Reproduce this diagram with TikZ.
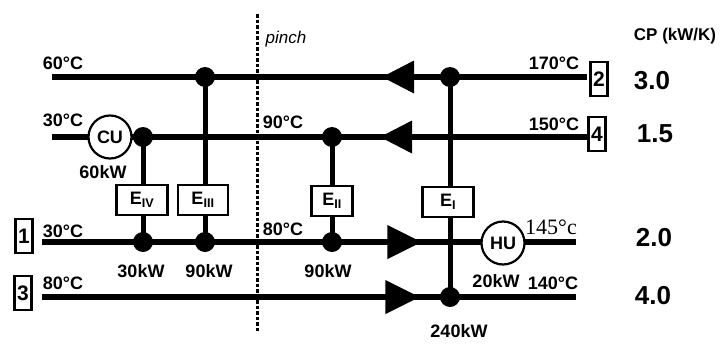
\documentclass[tikz,border=0pt]{standalone}
\usepackage{fontspec}
\setmainfont{Liberation Sans}
\newfontfamily\timesfont{Liberation Serif}
\usetikzlibrary{shapes.geometric}
\pgfdeclarelayer{bg}
\pgfsetlayers{bg,main}
\begin{document}
\begin{tikzpicture}[x=1pt,y=-1pt,
  stream/.style={line width=6.5pt},
  vline/.style={line width=5pt},
  pinchline/.style={line width=3pt,dash pattern=on 3.5pt off 2pt},
  dot/.style={circle,fill=black,inner sep=0pt,minimum size=20pt},
  hx/.style={draw,line width=2.4pt,fill=white,minimum height=30pt,inner sep=0pt,font=\fontsize{18}{18}\selectfont\bfseries},
  util/.style={circle,draw,line width=2.2pt,fill=white,minimum size=43pt,inner sep=0pt,font=\fontsize{18}{18}\selectfont\bfseries},
  lbl/.style={font=\fontsize{18}{18}\selectfont\bfseries,inner sep=0pt},
  cpval/.style={font=\fontsize{26}{26}\selectfont\bfseries,inner sep=0pt},
  sbox/.style={draw,line width=2.4pt,minimum width=17pt,minimum height=34pt,inner sep=0pt,font=\fontsize{21}{21}\selectfont\bfseries},
  flowL/.style={isosceles triangle,isosceles triangle stretches,fill=black,shape border rotate=180,minimum width=33pt,minimum height=32pt,inner sep=0pt},
  flowR/.style={isosceles triangle,isosceles triangle stretches,fill=black,minimum width=34pt,minimum height=34pt,inner sep=0pt},
]
\useasboundingbox (0,0) rectangle (725,343);

% stream end points
\coordinate (h2l) at (52,77);  \coordinate (h2r) at (587,77);
\coordinate (h4l) at (52,137); \coordinate (h4r) at (587,137);
\coordinate (c1l) at (42,242); \coordinate (c1r) at (576,242);
\coordinate (c3l) at (42,297); \coordinate (c3r) at (576,297);
\coordinate (pt) at (257,14);  \coordinate (pb) at (257,332);

% junction dots
\node[dot] (d2a) at (205,77) {};
\node[dot] (d2b) at (450,77) {};
\node[dot] (d4a) at (143,137) {};
\node[dot] (d4b) at (332,137) {};
\node[dot] (d1a) at (143,242) {};
\node[dot] (d1b) at (205,242) {};
\node[dot] (d1c) at (332,242) {};
\node[dot] (d3a) at (450,297) {};

\begin{pgfonlayer}{bg}
  \draw[stream] (h2l) -- (h2r);
  \draw[stream] (h4l) -- (h4r);
  \draw[stream] (c1l) -- (c1r);
  \draw[stream] (c3l) -- (c3r);
  \draw[vline] (d4a.center) -- (d1a.center);
  \draw[vline] (d2a.center) -- (d1b.center);
  \draw[vline] (d4b.center) -- (d1c.center);
  \draw[vline] (d2b.center) -- (d3a.center);
  \draw[pinchline] (pt) -- (pb);
\end{pgfonlayer}

% exchangers
\node[hx,minimum width=51pt] (eIV) at (142,200) {E\textsubscript{IV}};
\node[hx,minimum width=50pt] (eIII) at (203,200) {E\textsubscript{III}};
\node[hx,minimum width=41pt] (eII) at (332,201) {E\textsubscript{II}};
\node[hx,minimum width=51pt] (eI) at (448,202) {E\textsubscript{I}};

% utilities
\node[util] (cu) at (110,137) {CU};
\node[util] (hu) at (503,243) {HU};

% flow arrows
\node[flowL] (a2) at (404,77) {};
\node[flowL] (a4) at (402,137) {};
\node[flowR] (a1) at (398,242) {};
\node[flowR] (a3) at (396,297) {};

% stream numbers
\node[sbox] (s2) at (599,79) {2};
\node[sbox] (s4) at (597,134) {4};
\node[sbox] (s1) at (24,236) {1};
\node[sbox] (s3) at (23,293) {3};

% labels
\node[lbl] (t60) at (63,63) {60°C};
\node[lbl] (t30h) at (63,120) {30°C};
\node[lbl] (q60) at (103,172) {60kW};
\node[font=\fontsize{17}{17}\selectfont\itshape,inner sep=0pt] (pinch) at (286,39) {pinch};
\node[lbl] (t90) at (283,122) {90°C};
\node[lbl] (t170) at (554,63) {170°C};
\node[lbl] (t150) at (554,124) {150°C};
\node[font=\fontsize{17}{17}\selectfont\bfseries,inner sep=0pt] (cp) at (675,36) {CP (kW/K)};
\node[cpval] (cp2) at (652,81) {3.0};
\node[cpval] (cp4) at (655,134) {1.5};
\node[cpval] (cp1) at (654,238) {2.0};
\node[cpval] (cp3) at (653,296) {4.0};
\node[lbl] (t30c) at (63,231) {30°C};
\node[lbl] (t80c) at (63,283) {80°C};
\node[lbl] (q30) at (141,271) {30kW};
\node[lbl] (q90a) at (209,271) {90kW};
\node[lbl] (t80p) at (283,229) {80°C};
\node[lbl] (q90b) at (328,271) {90kW};
\node[lbl] (q20) at (496,281) {20kW};
\node[font=\fontsize{22}{22}\selectfont\timesfont,inner sep=0pt] (t145) at (551,227) {145°c};
\node[lbl] (t140) at (553,283) {140°C};
\node[lbl] (q240) at (459,331) {240kW};
\end{tikzpicture}
\end{document}
